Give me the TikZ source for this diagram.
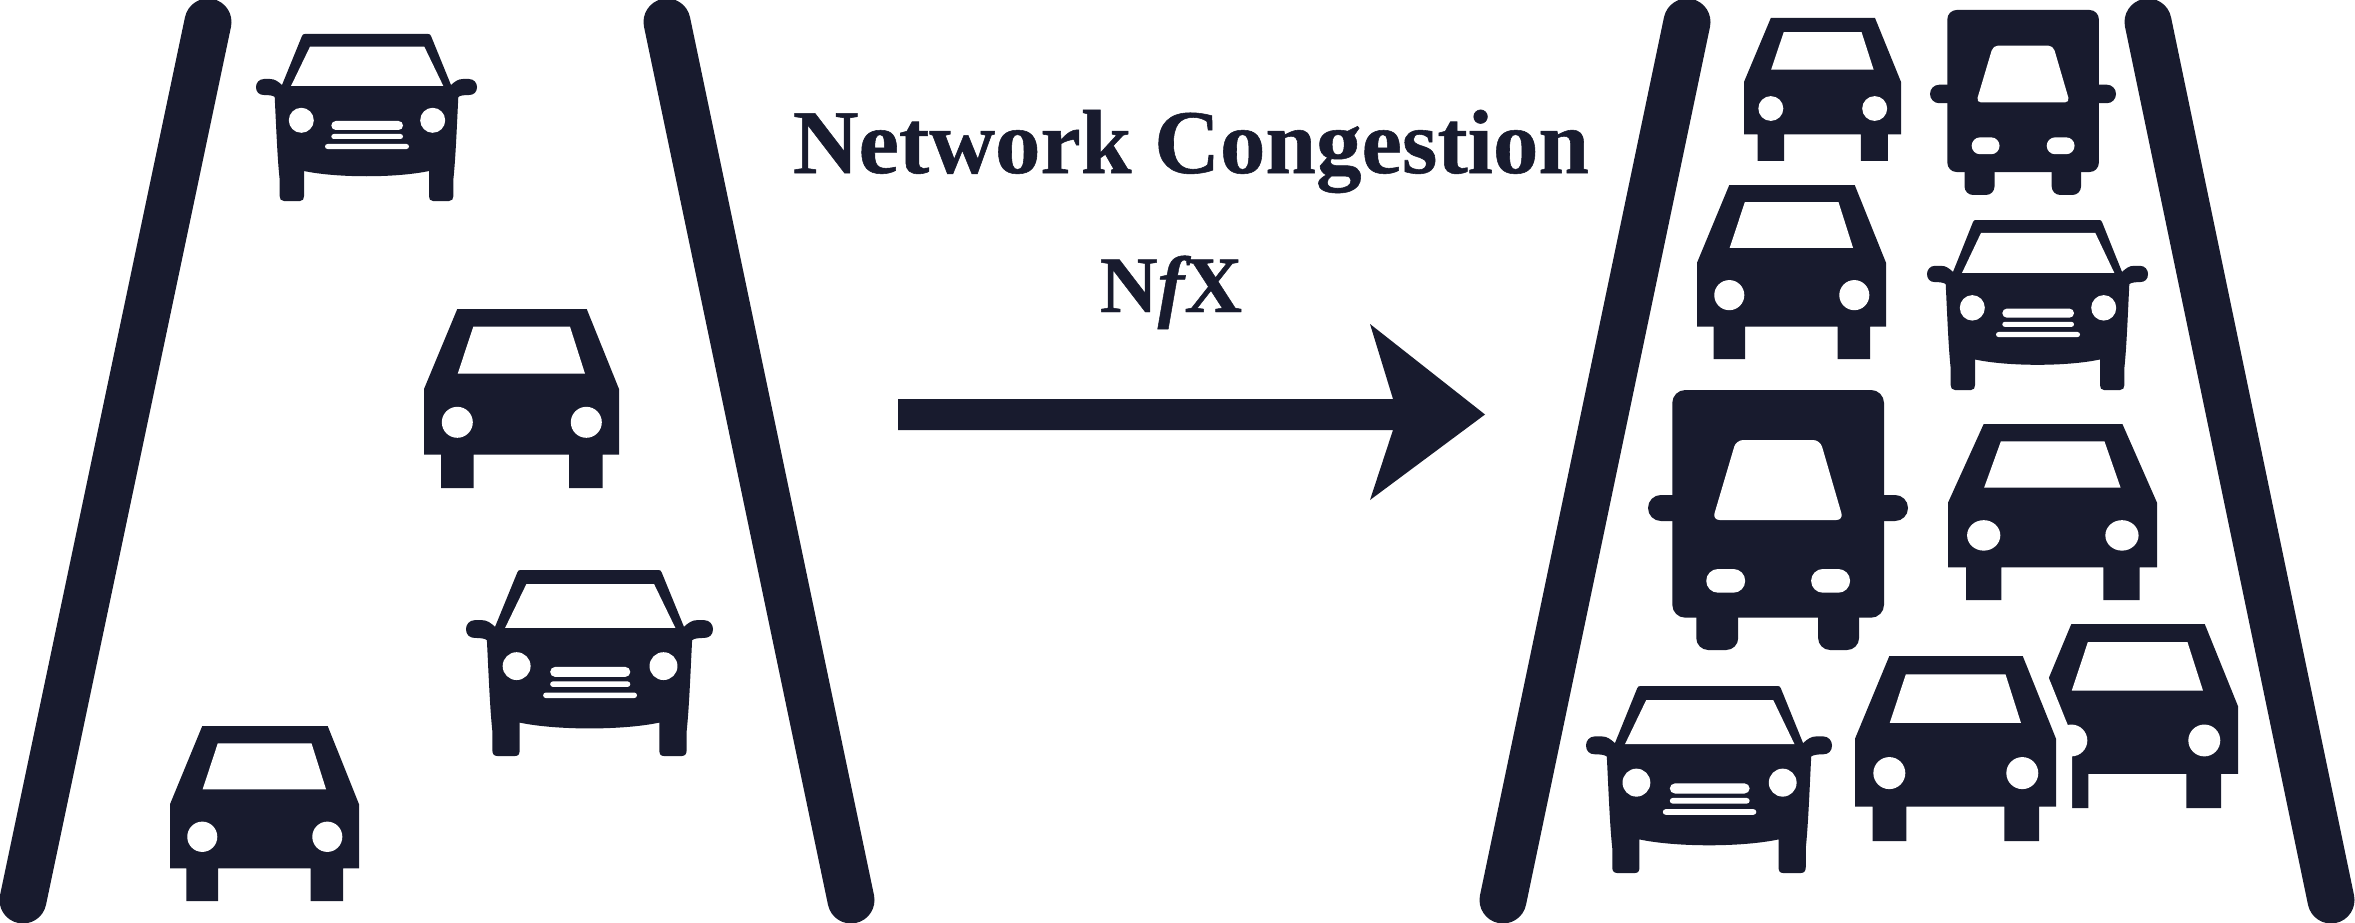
\documentclass[tikz,border=0pt]{standalone}
\usepackage{fontspec}
\setmainfont{Liberation Serif}
\newfontface\heavyface{Liberation Serif Bold}[FakeBold=0.6]
\newfontface\heavyslant{Liberation Serif Bold Italic}[FakeBold=0.6]
\definecolor{ink}{HTML}{181B2E}
\tikzset{
  road/.style={draw=ink,line width=47pt,line cap=round},
  solid ink/.style={fill=ink,draw=none},
  hole/.style={fill=white,draw=none},
  halo/.style={fill=white,draw=white,line width=32pt,line join=miter,miter limit=10},
  title/.style={text=ink,font=\heavyface\fontsize{91}{96}\selectfont,anchor=base,inner sep=0pt},
  brand/.style={text=ink,font=\heavyface\fontsize{80}{86}\selectfont,anchor=base,inner sep=0pt}
}
% plain car: local frame 195 x 179
\newcommand{\plainbody}{(33.3,0) -- (162.7,0) -- (195,80) -- (195,145.7) -- (178.7,145.7) -- (178.7,179) -- (145,179) -- (145,145.7) -- (49.7,145.7) -- (49.7,179) -- (17,179) -- (17,145.7) -- (0,145.7) -- (0,80) -- cycle}
\newcommand{\plainholes}{
  \path[hole] (49.3,17.7) -- (146,17.7) -- (161,64.7) -- (33.7,64.7) -- cycle;
  \path[hole] (33.3,113.3) ellipse [x radius=15.5,y radius=15.5];
  \path[hole] (162.3,113.3) ellipse [x radius=15.5,y radius=15.5];
}
\newcommand{\plaincar}[4]{\begin{scope}[shift={(#1,#2)},xscale=#3/195,yscale=#4/179]
  \path[solid ink] \plainbody;
  \plainholes
\end{scope}}
\newcommand{\halocar}[4]{\begin{scope}[shift={(#1,#2)},xscale=#3/195,yscale=#4/179]
  \path[halo] \plainbody;
  \path[solid ink] \plainbody;
  \plainholes
\end{scope}}
% detailed car: local frame 221 x 167
\newcommand{\fancycar}[4]{\begin{scope}[shift={(#1,#2)},xscale=#3/221,yscale=#4/167]
  \pgfmathsetmacro{\sy}{#4/167}
  \path[solid ink] (49,0) -- (172,0) .. controls (173.5,0) and (174.5,0.5) .. (175,2) -- (195,51)
    .. controls (199,47.5) and (202,45) .. (207,45) -- (213,45)
    .. controls (218,45) and (221,49) .. (221,53)
    .. controls (221,58) and (218,61) .. (213,61)
    .. controls (208,61) and (204,61.5) .. (202.3,63)
    .. controls (200.5,100) and (199.5,125) .. (197.4,145) -- (197.4,162)
    .. controls (197.4,165) and (196,167) .. (193,167) -- (177,167)
    .. controls (174,167) and (173,165) .. (173,162) -- (173,137)
    .. controls (140,144) and (81,144) .. (48,137) -- (48,162)
    .. controls (48,165) and (47,167) .. (44,167) -- (28,167)
    .. controls (25,167) and (23.6,165) .. (23.6,162) -- (23.6,145)
    .. controls (21.5,125) and (20.5,100) .. (18.7,63)
    .. controls (17,61.5) and (13,61) .. (8,61) .. controls (3,61) and (0,58) .. (0,53)
    .. controls (0,49) and (3,45) .. (8,45) -- (14,45)
    .. controls (19,45) and (22,47.5) .. (26,51) -- (46,2) .. controls (46.5,0.5) and (47.5,0) .. (49,0) -- cycle;
  \path[hole] (54,12.7) -- (168.3,12.7) -- (187.3,52) -- (35,52) -- cycle;
  \path[hole] (45.3,86.3) ellipse [x radius=12.5,y radius=12.5];
  \path[hole] (176.7,86.3) ellipse [x radius=12.5,y radius=12.5];
  \path[hole,rounded corners={4.5pt*\sy}] (75.3,87) rectangle (147,96);
  \path[hole,rounded corners={2.5pt*\sy}] (75.3,100) rectangle (147,105);
  \path[hole,rounded corners={2.5pt*\sy}] (69,110) rectangle (153,115);
\end{scope}}
% truck: local frame 260.3 x 260
\newcommand{\truck}[4]{\begin{scope}[shift={(#1,#2)},xscale=#3/260.3,yscale=#4/260]
  \pgfmathsetmacro{\sy}{#4/260}
  \path[solid ink,rounded corners={13pt*\sy}] (24.3,0) rectangle (236.3,227.7);
  \path[solid ink,rounded corners={12.9pt*\sy}] (0,105) rectangle (260.3,131);
  \path[solid ink,rounded corners={12pt*\sy}] (48.3,200) rectangle (90.3,260);
  \path[solid ink,rounded corners={12pt*\sy}] (170.3,200) rectangle (211.3,260);
  \path[hole,rounded corners={7pt*\sy}] (88.3,50) -- (172.3,50) -- (195.6,130) -- (64.6,130) -- cycle;
  \path[hole,rounded corners={11.8pt*\sy}] (58.3,179) rectangle (97.3,202.7);
  \path[hole,rounded corners={11.8pt*\sy}] (163.3,179) rectangle (202.3,202.7);
\end{scope}}
\begin{document}
\begin{tikzpicture}[x=1pt,y=-1pt]
\useasboundingbox (0,0) rectangle (2355,923);
\fill[white] (0,0) rectangle (2355,923);
% roads
\coordinate (ra) at (208,22); \coordinate (rb) at (23,900);
\coordinate (rc) at (667,22); \coordinate (rd) at (851,900);
\coordinate (re) at (1687,22); \coordinate (rf) at (1503,900);
\coordinate (rg) at (2148,22); \coordinate (rh) at (2331,900);
\draw[road] (ra) -- (rb);
\draw[road] (rc) -- (rd);
\draw[road] (re) -- (rf);
\draw[road] (rg) -- (rh);
% left road traffic
\fancycar{256}{34}{221}{167}
\plaincar{424}{309}{195}{179}
\fancycar{466}{570}{247}{186}
\plaincar{170}{726}{189}{175}
% title
\node[title] (t1) at (1191,173) {Network Congestion};
\node[brand] (t2) at (1171,312) {N{\heavyslant\fontsize{80}{86}\selectfont f}X};
% arrow
\path[solid ink] (898,399) -- (1393,399) -- (1370,324) -- (1485,414.5) -- (1370,500) -- (1393,430) -- (898,430) -- cycle;
% right road traffic
\plaincar{1744}{18}{157}{143}
\truck{1930}{10}{186}{185}
\plaincar{1697}{185}{189}{174}
\fancycar{1927}{220}{221}{170}
\truck{1648}{390}{260}{260}
\plaincar{1948}{424}{209}{176}
\plaincar{2037}{624}{201}{184}
\fancycar{1586}{686}{246}{187}
\halocar{1855}{656}{201}{185}
\end{tikzpicture}
\end{document}
